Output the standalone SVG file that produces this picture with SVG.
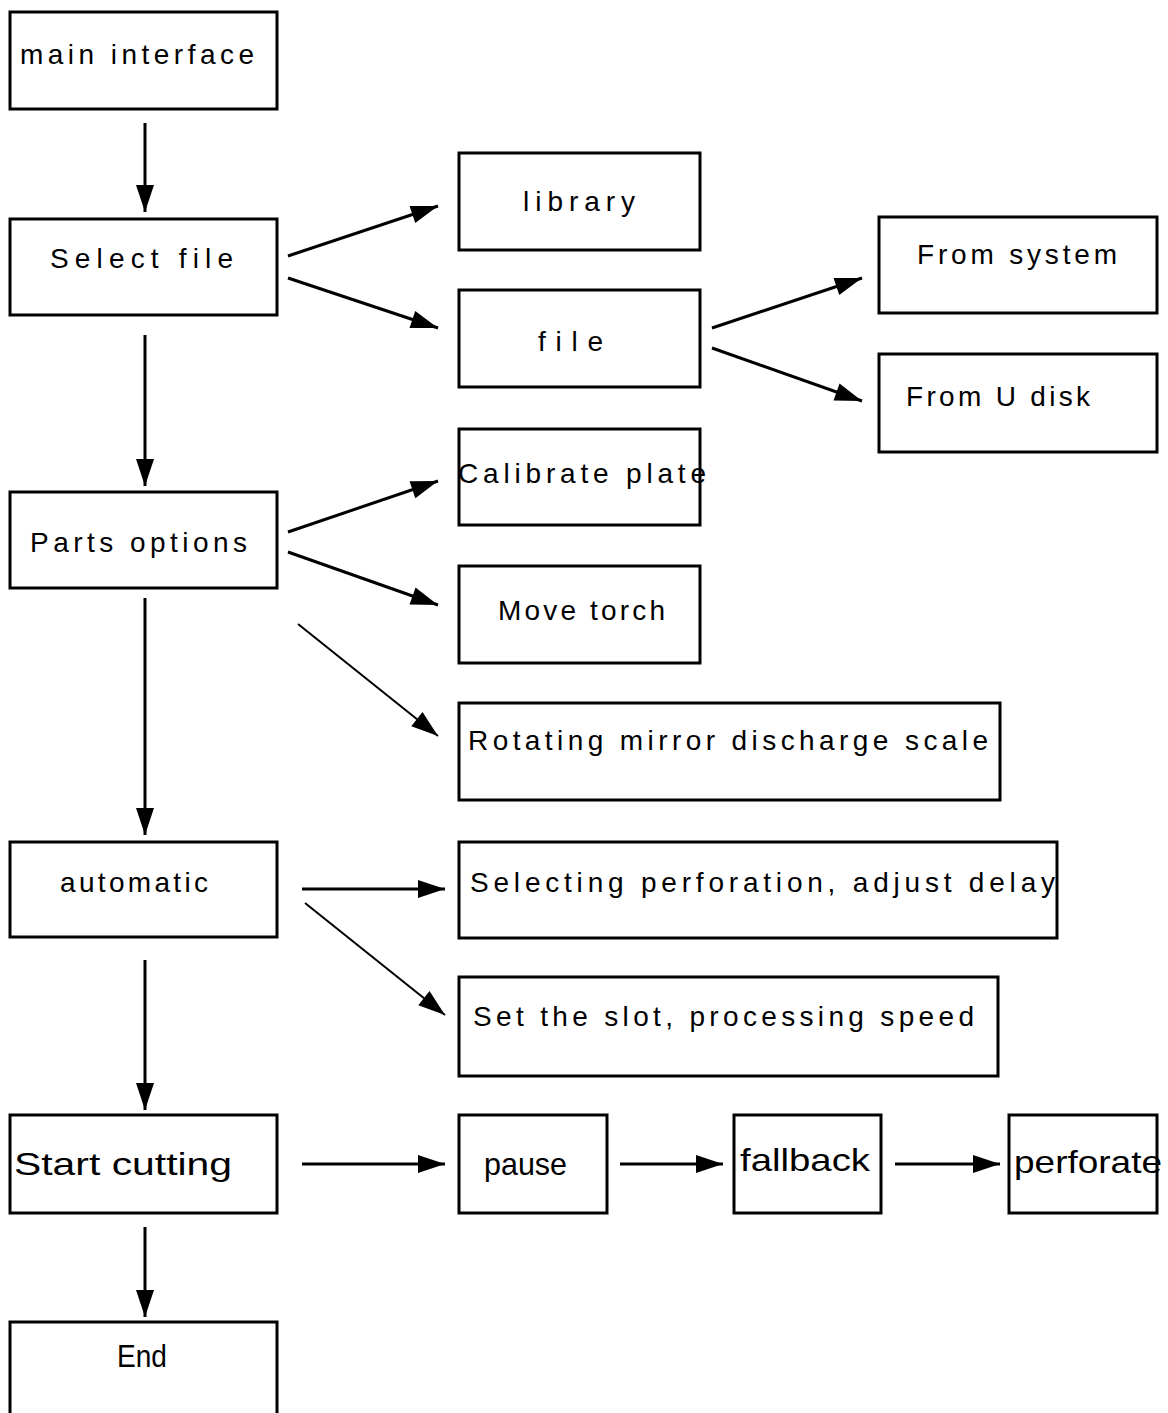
<svg xmlns="http://www.w3.org/2000/svg" width="1168" height="1413" viewBox="0 0 1168 1413">
<style>
.box{fill:#fff;stroke:#000;stroke-width:3}
.t{font-family:"Liberation Sans","DejaVu Sans",sans-serif;font-size:28px;fill:#000}
.b{font-size:32px}
.c{stroke:#000;stroke-width:3;fill:none;marker-end:url(#ah)}
.thin{stroke-width:2}
</style>
<defs>
<marker id="ah" markerUnits="userSpaceOnUse" markerWidth="30" markerHeight="22" refX="27" refY="9" orient="auto" overflow="visible">
<path d="M0,0 L27,9 L0,18 z" fill="#000"/>
</marker>
</defs>
<rect width="1168" height="1413" fill="#fff"/>
<g id="connectors">
<line class="c" x1="145" y1="123" x2="145" y2="212"/>
<line class="c" x1="145" y1="335" x2="145" y2="486"/>
<line class="c" x1="145" y1="598" x2="145" y2="835"/>
<line class="c" x1="145" y1="960" x2="145" y2="1110"/>
<line class="c" x1="145" y1="1227" x2="145" y2="1317"/>
<line class="c" x1="288" y1="256" x2="438" y2="206"/>
<line class="c" x1="288" y1="278" x2="438" y2="328"/>
<line class="c" x1="712" y1="328" x2="862" y2="278"/>
<line class="c" x1="712" y1="348" x2="862" y2="401"/>
<line class="c" x1="288" y1="532" x2="438" y2="481"/>
<line class="c" x1="288" y1="552" x2="438" y2="605"/>
<line class="c thin" x1="298" y1="624" x2="438" y2="736"/>
<line class="c" x1="302" y1="889" x2="445" y2="889"/>
<line class="c thin" x1="305" y1="903" x2="445" y2="1015"/>
<line class="c" x1="302" y1="1164" x2="445" y2="1164"/>
<line class="c" x1="620" y1="1164" x2="723" y2="1164"/>
<line class="c" x1="895" y1="1164" x2="1000" y2="1164"/>
</g>
<g id="main-interface"><rect class="box" x="10" y="12" width="267" height="97"/><text class="t" x="20" y="64" textLength="234" lengthAdjust="spacing">main interface</text></g>
<g id="select-file"><rect class="box" x="10" y="219" width="267" height="96"/><text class="t" x="50" y="268" textLength="183" lengthAdjust="spacing">Select file</text></g>
<g id="library"><rect class="box" x="459" y="153" width="241" height="97"/><text class="t" x="523" y="211" textLength="112" lengthAdjust="spacing">library</text></g>
<g id="file"><rect class="box" x="459" y="290" width="241" height="97"/><text class="t" x="538" y="351" textLength="65" lengthAdjust="spacing">file</text></g>
<g id="from-system"><rect class="box" x="879" y="217" width="278" height="96"/><text class="t" x="917" y="264" textLength="200" lengthAdjust="spacing">From  system</text></g>
<g id="from-u-disk"><rect class="box" x="879" y="354" width="278" height="98"/><text class="t" x="906" y="406" textLength="184" lengthAdjust="spacing">From U disk</text></g>
<g id="calibrate-plate"><rect class="box" x="459" y="429" width="241" height="96"/><text class="t" x="458" y="483" textLength="248" lengthAdjust="spacing">Calibrate plate</text></g>
<g id="parts-options"><rect class="box" x="10" y="492" width="267" height="96"/><text class="t" x="30" y="552" textLength="217" lengthAdjust="spacing">Parts options</text></g>
<g id="move-torch"><rect class="box" x="459" y="566" width="241" height="97"/><text class="t" x="498" y="620" textLength="167" lengthAdjust="spacing">Move torch</text></g>
<g id="rotating"><rect class="box" x="459" y="703" width="541" height="97"/><text class="t" x="468" y="750" textLength="520" lengthAdjust="spacing">Rotating mirror discharge scale</text></g>
<g id="automatic"><rect class="box" x="10" y="842" width="267" height="95"/><text class="t" x="60" y="892" textLength="148" lengthAdjust="spacing">automatic</text></g>
<g id="selecting-perforation"><rect class="box" x="459" y="842" width="598" height="96"/><text class="t" x="470" y="892" textLength="585" lengthAdjust="spacing">Selecting perforation, adjust delay</text></g>
<g id="set-slot"><rect class="box" x="459" y="977" width="539" height="99"/><text class="t" x="473" y="1026" textLength="501" lengthAdjust="spacing">Set the slot, processing speed</text></g>
<g id="start-cutting"><rect class="box" x="10" y="1115" width="267" height="98"/><text class="t b" x="14" y="1175" textLength="218" lengthAdjust="spacingAndGlyphs">Start cutting</text></g>
<g id="pause"><rect class="box" x="459" y="1115" width="148" height="98"/><text class="t b" x="484" y="1175" textLength="83" lengthAdjust="spacingAndGlyphs">pause</text></g>
<g id="fallback"><rect class="box" x="734" y="1115" width="147" height="98"/><text class="t b" x="740" y="1171" textLength="130" lengthAdjust="spacingAndGlyphs">fallback</text></g>
<g id="perforate"><rect class="box" x="1009" y="1115" width="148" height="98"/><text class="t b" x="1014" y="1173" textLength="148" lengthAdjust="spacingAndGlyphs">perforate</text></g>
<g id="end"><rect class="box" x="10" y="1322" width="267" height="100"/><text class="t b" x="117" y="1367" textLength="50" lengthAdjust="spacingAndGlyphs">End</text></g>
</svg>
